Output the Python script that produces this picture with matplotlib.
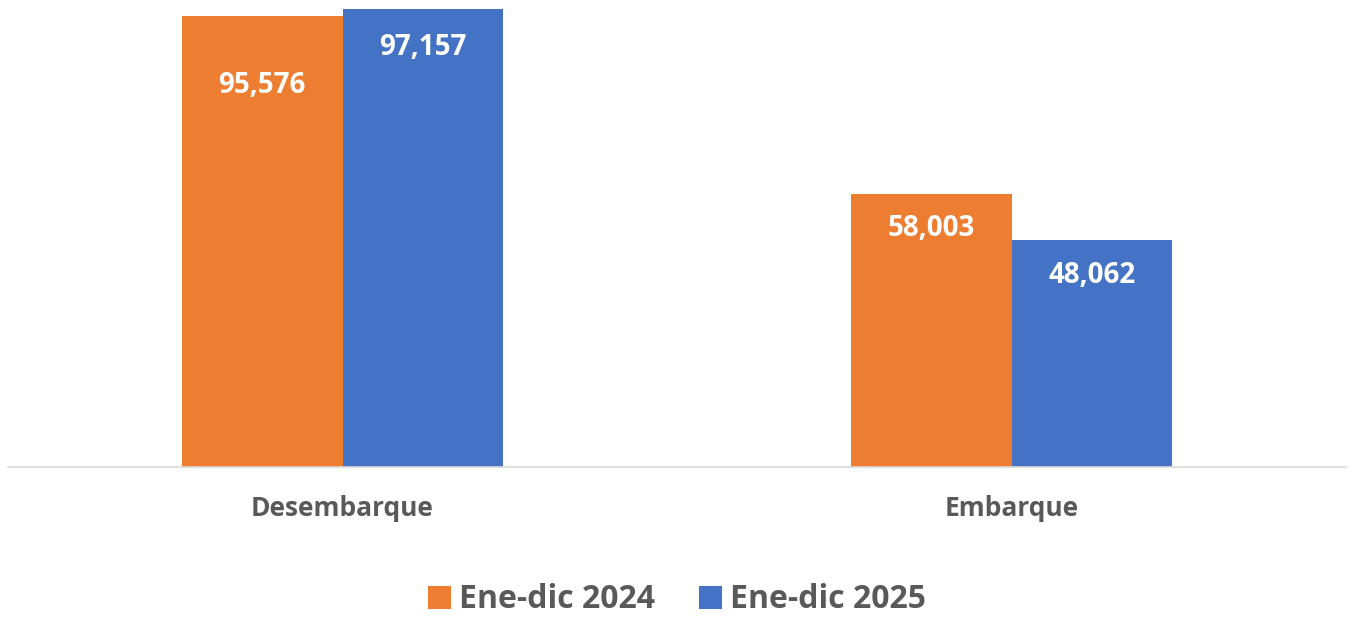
import matplotlib.pyplot as plt
import numpy as np

categorias = ['Desembarque', 'Embarque']
series = ['Ene-dic 2024', 'Ene-dic 2025']
valores_2024 = [95576, 58003]
valores_2025 = [97157, 48062]
colores = ['#ED7D31', '#4472C4']

plt.rcParams['font.family'] = ['Open Sans', 'DejaVu Sans']

fig = plt.figure(figsize=(13.54, 6.17), dpi=100)
ax = fig.add_axes([8/1354, 150/617, 1338/1354, 467/617])

x = np.arange(len(categorias))
ancho = 0.24
barras1 = ax.bar(x - ancho/2, valores_2024, ancho, color=colores[0], label=series[0])
barras2 = ax.bar(x + ancho/2, valores_2025, ancho, color=colores[1], label=series[1])

# desplazamiento de las etiquetas dentro de las barras (px)
desp = [[69, 35], [39, 35]]
for j, barras in enumerate([barras1, barras2]):
    for i, b in enumerate(barras):
        ax.annotate(f'{b.get_height():,.0f}', (b.get_x() + b.get_width()/2, b.get_height()),
                    xytext=(0, -desp[j][i] * 0.72), textcoords='offset points',
                    ha='center', va='center', color='white', fontsize=20, fontweight='bold')

ax.set_xlim(-0.5, 1.5)
ax.set_ylim(0, 99066)
ax.set_xticks(x)
ax.set_xticklabels(categorias, fontsize=19, fontweight='bold', color='#595959')
ax.tick_params(axis='x', length=0, pad=20)
ax.set_yticks([])
for s in ['top', 'right', 'left']:
    ax.spines[s].set_visible(False)
ax.spines['bottom'].set_color('#D9D9D9')
ax.spines['bottom'].set_linewidth(1.2)

fig.legend(loc='center', bbox_to_anchor=(0.5, 1 - 600/617), ncol=2, frameon=False,
           prop={'size': 23, 'weight': 'bold'}, handlelength=0.7, handleheight=0.7,
           handletextpad=0.25, columnspacing=1.4, labelcolor='#595959')

fig.savefig('out.png', dpi=100)
